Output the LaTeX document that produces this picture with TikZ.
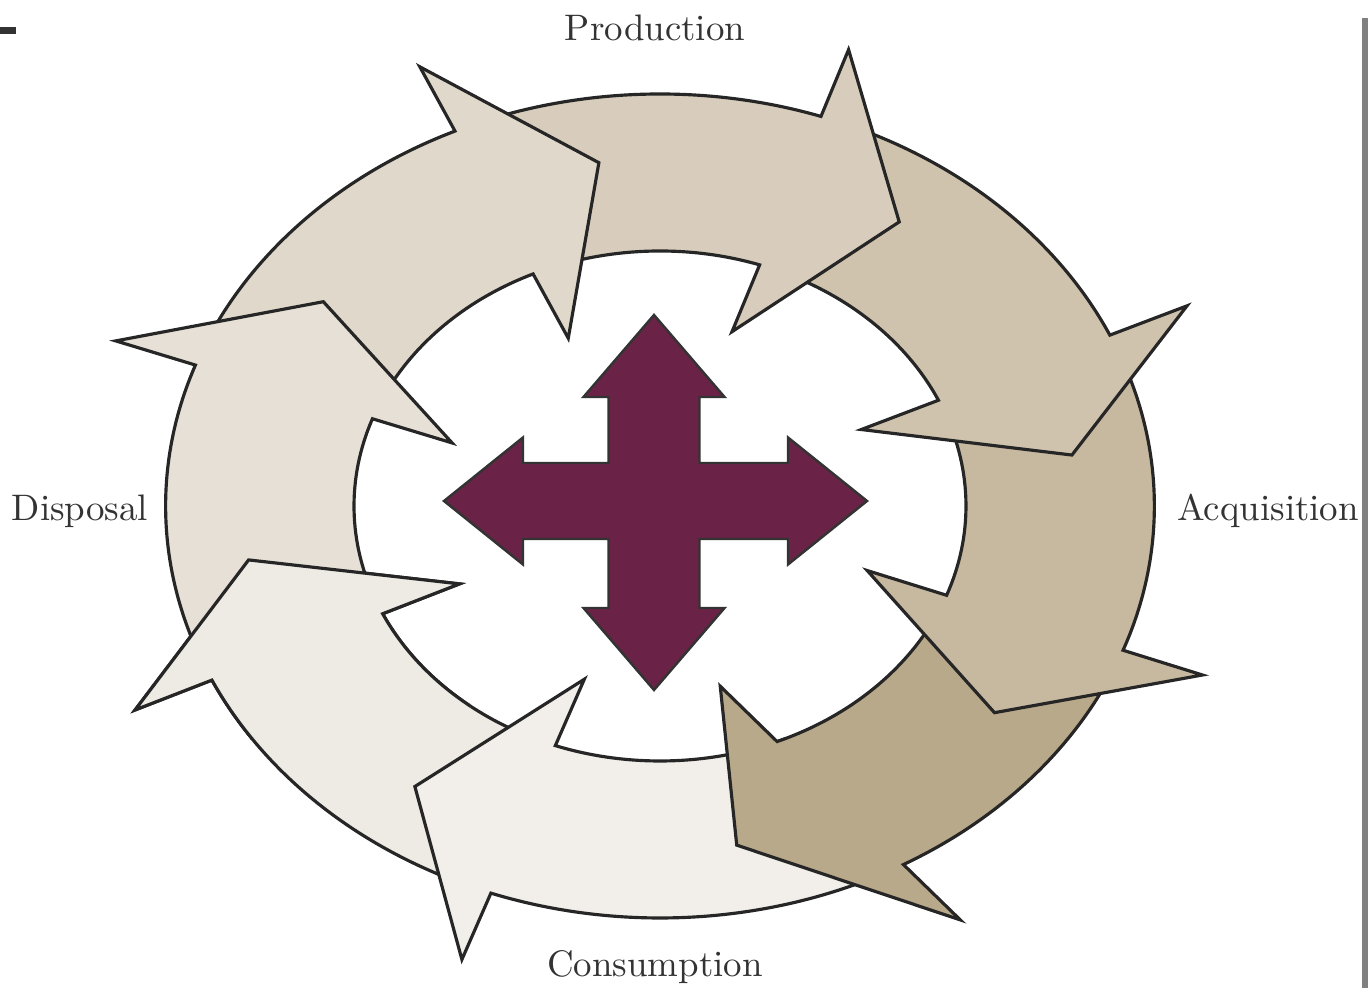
\documentclass[tikz,border=0pt]{standalone}
\usepackage{xcolor}
\usepackage{tikz}
\usetikzlibrary{calc,positioning}

\definecolor{arrowa}{HTML}{EEEAE4}
\definecolor{arrowb}{HTML}{E6E0D6}
\definecolor{arrowc}{HTML}{E0D8CB}
\definecolor{arrowd}{HTML}{D8CDBC}
\definecolor{arrowe}{HTML}{CFC3AD}
\definecolor{arrowf}{HTML}{C7B99F}
\definecolor{arrowg}{HTML}{B8A98A}
\definecolor{arrowh}{HTML}{F2EFEB}
\definecolor{crossred}{HTML}{6A2346}
\definecolor{labelgray}{HTML}{333333}

\newcommand{\outerr}{4.12}
\newcommand{\innerr}{2.55}
\newcommand{\barbfrac}{0.45}
\newcommand{\headlen}{0.96}

\tikzset{
  ringframe/.style={shift={(6.60,4.82)},xscale=1.2},
  ringarrow/.style={draw=black!85,line width=0.9pt,line join=miter},
  crossarrow/.style={draw=black!80,line width=0.7pt,fill=crossred,line join=miter},
  stagelabel/.style={text=labelgray,font=\fontsize{10.5}{12}\selectfont,anchor=base}
}

% #1 tail angle, #2 head angle outside, #3 head angle inside, #4 fill
\newcommand{\cyclearrow}[4]{%
  \draw[ringarrow,fill=#4] ({#1}:{\outerr})
    arc[start angle=#1,end angle=#2,radius=\outerr]
    -- ($({#2}:{\outerr})!-\barbfrac!({#3}:{\innerr})$)
    -- ({(\outerr*cos(#2)+\innerr*cos(#3))/2+\headlen*sin((#2+#3)/2)},
        {(\outerr*sin(#2)+\innerr*sin(#3))/2-\headlen*cos((#2+#3)/2)})
    -- ($({#3}:{\innerr})!-\barbfrac!({#2}:{\outerr})$) -- ({#3}:{\innerr})
    arc[start angle=#3,end angle=#1,radius=\innerr] -- cycle;
}

\begin{document}
\begin{tikzpicture}
  \useasboundingbox (0,0) rectangle (13.68,9.88);

  \begin{scope}[ringframe]
    \cyclearrow{247}{205}{205}{arrowa}
    \cyclearrow{-66}{-110}{-110}{arrowh}
    \cyclearrow{-23.5}{-60.5}{-67.5}{arrowg}
    \cyclearrow{21.5}{-20.5}{-20.5}{arrowf}
    \cyclearrow{68}{24.5}{24.5}{arrowe}
    \cyclearrow{111.5}{71}{71}{arrowd}
    \cyclearrow{157}{114.5}{114.5}{arrowc}
    \cyclearrow{202}{160}{160}{arrowb}
  \end{scope}
  \begin{scope}
    \clip (0,2.48) rectangle (4.70,9.88);
    \begin{scope}[ringframe]
      \cyclearrow{247}{205}{205}{arrowa}
    \end{scope}
  \end{scope}

  \begin{scope}[shift={(6.54,4.87)}]
    \draw[crossarrow] (0,1.86) -- (-0.705,1.04) -- (-0.455,1.04) -- (-0.455,0.38)
      -- (-1.31,0.38) -- (-1.31,0.635) -- (-2.10,0) -- (-1.31,-0.635) -- (-1.31,-0.38)
      -- (-0.455,-0.38) -- (-0.455,-1.07) -- (-0.705,-1.07) -- (0,-1.89)
      -- (0.705,-1.07) -- (0.455,-1.07) -- (0.455,-0.38) -- (1.34,-0.38)
      -- (1.34,-0.635) -- (2.13,0) -- (1.34,0.635) -- (1.34,0.38)
      -- (0.455,0.38) -- (0.455,1.04) -- (0.705,1.04) -- cycle;
  \end{scope}

  \node[stagelabel] (prod) at (6.55,9.47) {Production};
  \node[stagelabel] (acq)  at (12.68,4.67) {Acquisition};
  \node[stagelabel] (cons) at (6.55,0.11) {Consumption};
  \node[stagelabel] (disp) at (0.80,4.67) {Disposal};

  \fill[black!80] (0,9.54) rectangle (0.16,9.61);
  \fill[black!50] (13.62,0) rectangle (13.68,9.70);
\end{tikzpicture}
\end{document}
